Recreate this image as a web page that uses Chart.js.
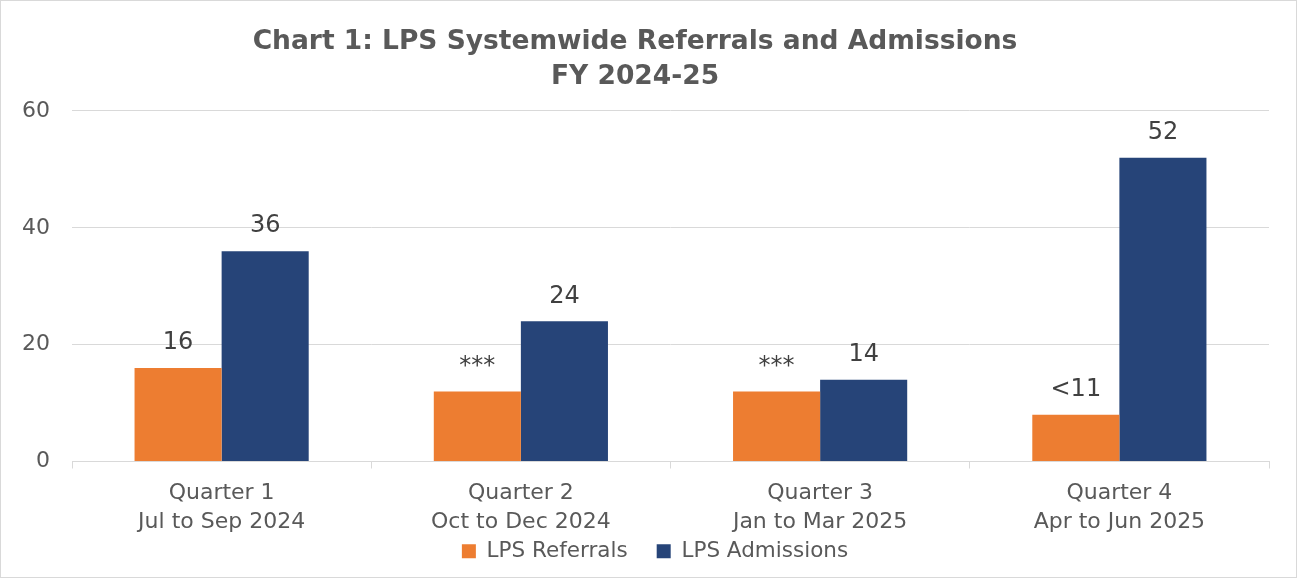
<!DOCTYPE html>
<html>
<head>
<meta charset="utf-8">
<script src="https://cdn.jsdelivr.net/npm/chart.js@4.4.1/dist/chart.umd.min.js"></script>
<style>
  html, body { margin: 0; padding: 0; background: #fff; }
  #wrap { width: 1297px; height: 578px; box-sizing: border-box; border: 1px solid #d9d9d9; }
  #chart { display: block; }
</style>
</head>
<body>
<div id="wrap"><canvas id="chart" width="1295" height="576"></canvas></div>
<script>
const categories = [
    ['Quarter 1', 'Jul to Sep 2024'],
    ['Quarter 2', 'Oct to Dec 2024'],
    ['Quarter 3', 'Jan to Mar 2025'],
    ['Quarter 4', 'Apr to Jun 2025']
];
const referrals = [16, 12, 12, 8];
const admissions = [36, 24, 14, 52];
// texto mostrado sobre cada barra (valores suprimidos en el original)
const referralLabels = ['16', '***', '***', '<11'];
const admissionLabels = ['36', '24', '14', '52'];
const yTicks = [0, 20, 40, 60];

const FONT = "'DejaVu Sans', sans-serif";
const GREY = '#595959';

// etiquetas de datos encima de las barras
const barLabels = {
    id: 'barLabels',
    afterDatasetsDraw(chart) {
        const ctx = chart.ctx;
        ctx.save();
        ctx.font = '24px ' + FONT;
        ctx.fillStyle = '#404040';
        ctx.textAlign = 'center';
        ctx.textBaseline = 'bottom';
        chart.data.datasets.forEach((ds, i) => {
            const meta = chart.getDatasetMeta(i);
            meta.data.forEach((bar, j) => {
                ctx.fillText(ds.valueLabels[j], bar.x, bar.y - 13);
            });
        });
        ctx.restore();
    }
};

// el eje x ocupa poco en el layout pero sus etiquetas de dos lineas no se recortan;
// la leyenda se desplaza un poco a la derecha como en el original
const layoutTweak = {
    id: 'layoutTweak',
    afterLayout(chart) {
        chart.scales.x.bottom = chart.height;
        chart.legend.left += 20;
        chart.legend.right += 20;
    }
};

new Chart(document.getElementById('chart'), {
    type: 'bar',
    data: {
        labels: categories,
        datasets: [
            {
                label: 'LPS Referrals',
                data: referrals,
                valueLabels: referralLabels,
                backgroundColor: '#ED7D31',
                borderWidth: 0
            },
            {
                label: 'LPS Admissions',
                data: admissions,
                valueLabels: admissionLabels,
                backgroundColor: '#264478',
                borderWidth: 0
            }
        ]
    },
    options: {
        responsive: false,
        animation: false,
        layout: { padding: { left: 0, right: 27, top: 0, bottom: 5 } },
        datasets: { bar: { barPercentage: 1, categoryPercentage: 0.582 } },
        plugins: {
            title: {
                display: true,
                text: ['Chart 1: LPS Systemwide Referrals and Admissions', 'FY 2024-25'],
                color: GREY,
                font: { family: FONT, size: 26.5, weight: 'bold', lineHeight: 1.32 },
                padding: { top: 24, bottom: 16 }
            },
            legend: {
                position: 'bottom',
                labels: {
                    color: GREY,
                    font: { family: FONT, size: 21.5 },
                    boxWidth: 14,
                    boxHeight: 14,
                    padding: 29
                }
            },
            tooltip: { enabled: false }
        },
        scales: {
            x: {
                afterFit(scale) { scale.height = 50; },
                grid: {
                    display: true,
                    drawOnChartArea: false,
                    drawTicks: true,
                    tickLength: 7,
                    color: '#d9d9d9'
                },
                border: { display: true, color: '#d9d9d9', width: 1 },
                ticks: {
                    color: GREY,
                    font: { family: FONT, size: 22, lineHeight: 1.32 },
                    padding: 10,
                    maxRotation: 0
                }
            },
            y: {
                min: 0,
                max: 60,
                afterBuildTicks(scale) {
                    scale.ticks = yTicks.map(v => ({ value: v }));
                },
                afterFit(scale) { scale.width = 71; },
                grid: { color: '#d9d9d9', drawTicks: false },
                border: { display: false },
                ticks: {
                    color: GREY,
                    font: { family: FONT, size: 22 },
                    padding: 22
                }
            }
        }
    },
    plugins: [barLabels, layoutTweak]
});
</script>
</body>
</html>
